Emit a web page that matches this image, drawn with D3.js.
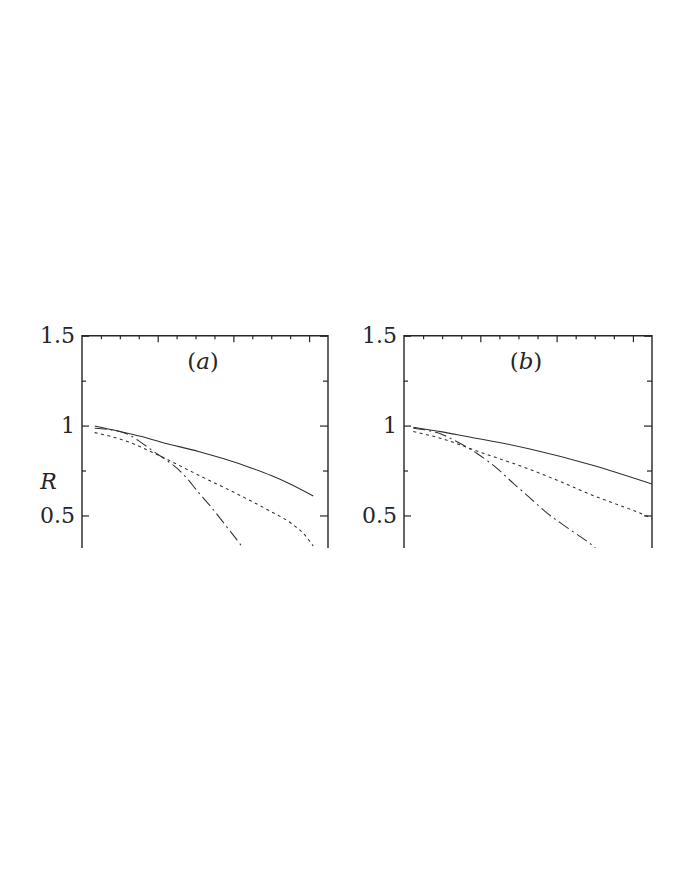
<!DOCTYPE html>
<html>
<head>
<meta charset="utf-8">
<script src="https://cdn.jsdelivr.net/npm/d3@7"></script>
<style>
  html, body { margin: 0; padding: 0; background: #fff; }
  svg { display: block; }
</style>
</head>
<body>
<svg id="chart" width="681" height="880"></svg>
<script>
// ---------------- data ----------------
const panelNames = ["(a)", "(b)"];
const panelLetters = ["a", "b"];
const yTickValues = [0.5, 1, 1.5];
const yTickLabels = ["0.5", "1", "1.5"];
const yMinorTicks = [0.75, 1.25];
const xMinorTicks = [0.1, 0.2, 0.3, 0.5, 0.6, 0.7, 0.9, 1.0, 1.1];
const xMajorTicks = [0.4, 0.8, 1.2];
const yLabel = "R";

// panel (a)
const aSolidX = [0.067, 0.19, 0.31, 0.42, 0.62, 0.75, 0.89, 1.0, 1.10, 1.222];
const aSolidY = [0.998, 0.970, 0.940, 0.907, 0.855, 0.815, 0.766, 0.722, 0.675, 0.608];
const aDashX  = [0.067, 0.24, 0.42, 0.62, 0.80, 0.98, 1.12, 1.17, 1.222];
const aDashY  = [0.961, 0.911, 0.827, 0.722, 0.630, 0.532, 0.445, 0.40, 0.33];
const aDotDashX = [0.067, 0.19, 0.26, 0.30, 0.38, 0.45, 0.51, 0.56, 0.61, 0.68, 0.77, 0.85, 0.87];
const aDotDashY = [0.985, 0.97, 0.942, 0.915, 0.855, 0.805, 0.755, 0.70, 0.635, 0.55, 0.43, 0.32, 0.29];

// panel (b)
const bSolidX = [0.049, 0.2, 0.329, 0.538, 0.66, 0.984, 1.30];
const bSolidY = [0.991, 0.965, 0.939, 0.898, 0.870, 0.781, 0.675];
const bDashX  = [0.049, 0.189, 0.416, 0.65, 0.80, 0.984, 1.28, 1.30];
const bDashY  = [0.967, 0.93, 0.846, 0.76, 0.697, 0.614, 0.493, 0.483];
const bDotDashX = [0.049, 0.206, 0.276, 0.381, 0.486, 0.573, 0.66, 0.739, 0.861, 1.001, 1.03];
const bDotDashY = [0.985, 0.948, 0.911, 0.846, 0.763, 0.679, 0.598, 0.523, 0.428, 0.32, 0.29];

// ---------------- layout ----------------
const svg = d3.select("#chart");
const yTop = 335.7, yBottom = 548;
const panels = [
  { left: 82, right: 328, name: panelNames[0], letter: panelLetters[0],
    series: [
      { x: aSolidX, y: aSolidY, dash: null },
      { x: aDashX, y: aDashY, dash: "3,3.5" },
      { x: aDotDashX, y: aDotDashY, dash: "12,4,2,4" }
    ] },
  { left: 404, right: 652, name: panelNames[1], letter: panelLetters[1],
    series: [
      { x: bSolidX, y: bSolidY, dash: null },
      { x: bDashX, y: bDashY, dash: "3,3.5" },
      { x: bDotDashX, y: bDotDashY, dash: "12,4,2,4" }
    ] }
];

const yScale = d3.scaleLinear().domain([0.319, 1.5]).range([yBottom, yTop]);
const ink = "#262626";

panels.forEach((p, i) => {
  const xScale = d3.scaleLinear().domain([0, 1.3]).range([p.left, p.right]);
  const g = svg.append("g");

  const clipId = "clip" + i;
  svg.append("defs").append("clipPath").attr("id", clipId)
    .append("rect").attr("x", p.left).attr("y", yTop)
    .attr("width", p.right - p.left).attr("height", yBottom - yTop);

  // curves
  const line = d3.line().x(d => xScale(d[0])).y(d => yScale(d[1])).curve(d3.curveMonotoneX);
  p.series.forEach(s => {
    const pts = s.x.map((v, k) => [v, s.y[k]]);
    g.append("path")
      .attr("clip-path", `url(#${clipId})`)
      .attr("d", line(pts))
      .attr("fill", "none")
      .attr("stroke", "#303030")
      .attr("stroke-width", 1.05)
      .attr("stroke-dasharray", s.dash);
  });

  // left axis (major with labels)
  const leftAx = g.append("g").attr("transform", `translate(${p.left},0)`)
    .call(d3.axisLeft(yScale).tickValues(yTickValues)
      .tickFormat((d, k) => yTickLabels[k])
      .tickSizeInner(-7).tickSizeOuter(0).tickPadding(7));
  leftAx.select(".domain").remove();
  leftAx.selectAll("text").attr("font-family", "DejaVu Serif").attr("font-size", 22).attr("fill", ink);
  g.append("g").attr("transform", `translate(${p.left},0)`)
    .call(d3.axisLeft(yScale).tickValues(yMinorTicks).tickFormat("").tickSizeInner(-4).tickSizeOuter(0))
    .select(".domain").remove();

  // right axis
  const rightAx = g.append("g").attr("transform", `translate(${p.right},0)`)
    .call(d3.axisRight(yScale).tickValues(yTickValues).tickFormat("").tickSizeInner(-8).tickSizeOuter(0));
  rightAx.select(".domain").remove();
  g.append("g").attr("transform", `translate(${p.right},0)`)
    .call(d3.axisRight(yScale).tickValues(yMinorTicks).tickFormat("").tickSizeInner(-5).tickSizeOuter(0))
    .select(".domain").remove();

  // top axis
  const topAx = g.append("g").attr("transform", `translate(0,${yTop})`)
    .call(d3.axisTop(xScale).tickValues(xMinorTicks).tickFormat("").tickSizeInner(-3.5).tickSizeOuter(0));
  topAx.select(".domain").remove();
  g.append("g").attr("transform", `translate(0,${yTop})`)
    .call(d3.axisTop(xScale).tickValues(xMajorTicks).tickFormat("").tickSizeInner(-6.5).tickSizeOuter(0))
    .select(".domain").remove();

  g.selectAll(".tick line").attr("stroke", ink).attr("stroke-width", 1.2);

  // frame (left, top, right edges; bottom is cut)
  g.append("path")
    .attr("d", `M${p.left},${yBottom}V${yTop}H${p.right}V${yBottom}`)
    .attr("fill", "none").attr("stroke", ink).attr("stroke-width", 1.4);

  // panel label
  const lab = g.append("text")
    .attr("x", (p.left + p.right) / 2 - 2)
    .attr("y", 369)
    .attr("text-anchor", "middle")
    .attr("font-family", "DejaVu Serif")
    .attr("font-size", 23)
    .attr("fill", ink);
  lab.append("tspan").text("(");
  lab.append("tspan").attr("font-style", "italic").text(p.letter);
  lab.append("tspan").text(")");
});

// y label
svg.append("text")
  .attr("x", 48.5).attr("y", 489)
  .attr("text-anchor", "middle")
  .attr("font-family", "DejaVu Serif")
  .attr("font-style", "italic")
  .attr("font-size", 22)
  .attr("fill", ink)
  .text(yLabel);
</script>
</body>
</html>
